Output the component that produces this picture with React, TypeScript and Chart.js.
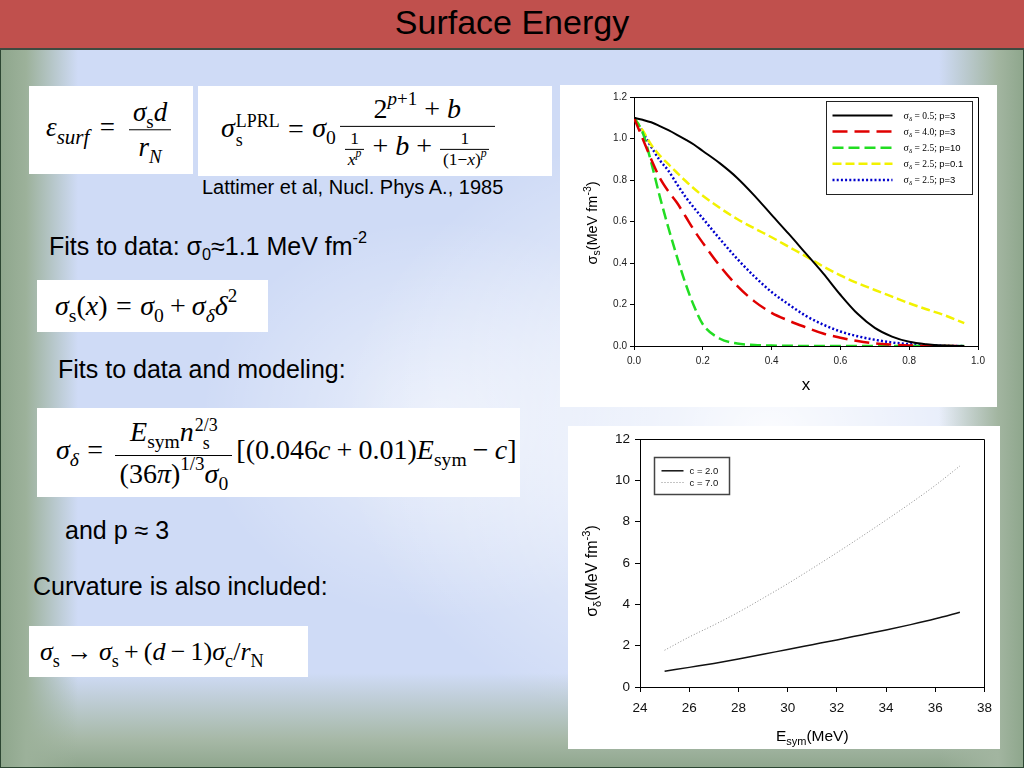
import React, { useEffect, useRef } from 'react';
import { Chart, registerables } from 'chart.js';
Chart.register(...registerables);

// ---------- data: top chart (surface tension vs x) ----------
const xFraction = [0, 0.025, 0.05, 0.075, 0.1, 0.125, 0.15, 0.175, 0.2, 0.25, 0.3, 0.35, 0.4, 0.45, 0.5, 0.55, 0.6, 0.65, 0.7, 0.75, 0.8, 0.85, 0.9, 0.96];
const sigmaD05p3 = [1.10, 1.09, 1.078, 1.06, 1.04, 1.018, 0.995, 0.97, 0.94, 0.88, 0.81, 0.725, 0.632, 0.54, 0.445, 0.35, 0.247, 0.155, 0.087, 0.045, 0.02, 0.008, 0.002, 0];
const sigmaD40p3 = [1.10, 1.0, 0.9, 0.81, 0.745, 0.69, 0.624, 0.557, 0.497, 0.385, 0.29, 0.215, 0.16, 0.122, 0.09, 0.06, 0.04, 0.024, 0.013, 0.007, 0.003, 0.001, 0, 0];
const sigmaD25p10 = [1.10, 1.03, 0.885, 0.72, 0.57, 0.43, 0.30, 0.19, 0.105, 0.035, 0.012, 0.005, 0.002, 0.001, 0, 0, 0, 0, 0, 0, 0, 0, 0, 0];
const sigmaD25p01 = [1.10, 1.04, 0.97, 0.918, 0.876, 0.835, 0.795, 0.758, 0.724, 0.665, 0.612, 0.567, 0.524, 0.478, 0.432, 0.383, 0.34, 0.303, 0.27, 0.238, 0.206, 0.177, 0.15, 0.11];
const sigmaD25p3 = [1.10, 1.03, 0.96, 0.895, 0.845, 0.78, 0.718, 0.665, 0.615, 0.515, 0.42, 0.335, 0.26, 0.2, 0.145, 0.103, 0.07, 0.047, 0.03, 0.017, 0.009, 0.004, 0.001, 0];
const topLegendSigma = ['0.5', '4.0', '2.5', '2.5', '2.5'];
const topLegendP = ['3', '3', '10', '0.1', '3'];
const topXTicks = [0, 0.2, 0.4, 0.6, 0.8, 1.0];

// ---------- data: bottom chart (sigma_delta vs Esym) ----------
const eSym = [25, 26, 27, 28, 29, 30, 31, 32, 33, 34, 35, 36, 37];
const sigmaDeltaC2 = [0.76, 0.95, 1.14, 1.35, 1.58, 1.82, 2.05, 2.28, 2.52, 2.76, 3.02, 3.30, 3.62];
const sigmaDeltaC7 = [1.78, 2.42, 3.0, 3.62, 4.3, 5.0, 5.74, 6.5, 7.28, 8.08, 8.9, 9.76, 10.7];
const bottomLegend = ['c = 2.0', 'c = 7.0'];

// ---------- styles ----------
const topSeries = [sigmaD05p3, sigmaD40p3, sigmaD25p10, sigmaD25p01, sigmaD25p3];
const topStyles = [
  { color: '#000000', width: 2, dash: [] as number[] },
  { color: '#e00000', width: 2.5, dash: [15, 7] },
  { color: '#22dd22', width: 2.5, dash: [11, 5] },
  { color: '#f2f200', width: 2.5, dash: [9, 4] },
  { color: '#0000cc', width: 2.5, dash: [2, 2.2] },
];
const bottomSeries = [sigmaDeltaC2, sigmaDeltaC7];
const bottomStyles = [
  { color: '#111111', width: 1.5, dash: [] as number[] },
  { color: '#8a8a8a', width: 1, dash: [1, 2] },
];

const SANS = '"Liberation Sans", Arial, Helvetica, sans-serif';
const SERIF = '"Liberation Serif", "Times New Roman", "DejaVu Serif", serif';

type Seg = { t: string; size: number; fam?: string; dy?: number };
const fontOf = (s: Seg) => `${s.size}px ${s.fam || SANS}`;
function drawSegs(ctx: CanvasRenderingContext2D, segs: Seg[], x: number, y: number, center: boolean) {
  let w = 0;
  for (const s of segs) { ctx.font = fontOf(s); w += ctx.measureText(s.t).width; }
  let cx = center ? x - w / 2 : x;
  ctx.textAlign = 'left';
  ctx.textBaseline = 'alphabetic';
  for (const s of segs) {
    ctx.font = fontOf(s);
    ctx.fillText(s.t, cx, y + (s.dy || 0));
    cx += ctx.measureText(s.t).width;
  }
}

function drawFrame(ctx: CanvasRenderingContext2D, ca: any) {
  ctx.strokeStyle = '#000';
  ctx.lineWidth = 1;
  ctx.setLineDash([]);
  ctx.beginPath();
  ctx.moveTo(ca.left, Math.round(ca.top) + 0.5);
  ctx.lineTo(Math.round(ca.right) + 0.5, Math.round(ca.top) + 0.5);
  ctx.lineTo(Math.round(ca.right) + 0.5, ca.bottom);
  ctx.stroke();
}

const topDecor = {
  id: 'topDecor',
  afterDraw(chart: any) {
    const { ctx, chartArea: ca } = chart;
    ctx.save();
    drawFrame(ctx, ca);
    ctx.fillStyle = '#000';
    drawSegs(ctx, [{ t: 'x', size: 17 }], (ca.left + ca.right) / 2, ca.bottom + 44, true);
    ctx.save();
    ctx.translate(ca.left - 42.5, (ca.top + ca.bottom) / 2 + 1.5);
    ctx.rotate(-Math.PI / 2);
    drawSegs(ctx, [
      { t: 'σ', size: 14.5 }, { t: 's', size: 10.5, dy: 3 }, { t: '(MeV fm', size: 14.5 },
      { t: '-3', size: 10.5, dy: -6 }, { t: ')', size: 14.5 },
    ], 0, 5, true);
    ctx.restore();
    // legend
    const bw = 146, bh = 93;
    const bx = Math.round(ca.right - 6 - bw) + 0.5, by = Math.round(ca.top + 4) + 0.5;
    ctx.fillStyle = '#fff';
    ctx.fillRect(bx, by, bw, bh);
    ctx.strokeStyle = '#222';
    ctx.lineWidth = 1;
    ctx.strokeRect(bx, by, bw, bh);
    chart.data.datasets.forEach((ds: any, i: number) => {
      const yy = by + 14 + i * 16.1;
      ctx.setLineDash(ds.borderDash || []);
      ctx.strokeStyle = ds.borderColor;
      ctx.lineWidth = ds.borderWidth;
      ctx.beginPath();
      ctx.moveTo(bx + 6, yy);
      ctx.lineTo(bx + 66, yy);
      ctx.stroke();
      ctx.setLineDash([]);
      ctx.fillStyle = '#000';
      drawSegs(ctx, [
        { t: 'σ', size: 10, fam: SERIF }, { t: 'δ', size: 7, fam: SERIF, dy: 2 },
        { t: ` = ${topLegendSigma[i]}; `, size: 9.5, fam: SERIF }, { t: `p=${topLegendP[i]}`, size: 9.5 },
      ], bx + 77, yy + 3, false);
    });
    ctx.restore();
  },
};

const bottomDecor = {
  id: 'bottomDecor',
  afterDraw(chart: any) {
    const { ctx, chartArea: ca } = chart;
    ctx.save();
    drawFrame(ctx, ca);
    ctx.fillStyle = '#000';
    drawSegs(ctx, [{ t: 'E', size: 15.5 }, { t: 'sym', size: 11, dy: 4 }, { t: '(MeV)', size: 15.5 }], (ca.left + ca.right) / 2, ca.bottom + 54, true);
    ctx.save();
    ctx.translate(ca.left - 49, (ca.top + ca.bottom) / 2 + 8);
    ctx.rotate(-Math.PI / 2);
    drawSegs(ctx, [
      { t: 'σ', size: 16 }, { t: 'δ', size: 11, dy: 4 }, { t: '(MeV fm', size: 16 },
      { t: '-3', size: 11, dy: -7 }, { t: ')', size: 16 },
    ], 0, 5.5, true);
    ctx.restore();
    // legend
    const bw = 75, bh = 37;
    const bx = Math.round(ca.left + 14) + 0.5, by = Math.round(ca.top + 18) + 0.5;
    ctx.fillStyle = '#fff';
    ctx.fillRect(bx, by, bw, bh);
    ctx.strokeStyle = '#444';
    ctx.lineWidth = 1.5;
    ctx.strokeRect(bx, by, bw, bh);
    chart.data.datasets.forEach((ds: any, i: number) => {
      const yy = by + 13.3 + i * 11.7;
      ctx.setLineDash(ds.borderDash || []);
      ctx.strokeStyle = ds.borderColor;
      ctx.lineWidth = ds.borderWidth;
      ctx.beginPath();
      ctx.moveTo(bx + 7, yy);
      ctx.lineTo(bx + 29, yy);
      ctx.stroke();
      ctx.setLineDash([]);
      ctx.fillStyle = '#111';
      drawSegs(ctx, [{ t: bottomLegend[i], size: 9.5 }], bx + 35, yy + 3.5, false);
    });
    ctx.restore();
  },
};

// ---------- formula helpers ----------
const Sub = ({ children, s = 0.7 }: any) => (
  <span style={{ fontSize: `${s}em`, verticalAlign: '-0.35em', lineHeight: 0, fontStyle: 'normal' }}>{children}</span>
);
const Sup = ({ children, s = 0.68 }: any) => (
  <span style={{ fontSize: `${s}em`, verticalAlign: '0.7em', lineHeight: 0, fontStyle: 'normal' }}>{children}</span>
);
const I = ({ children }: any) => <span style={{ fontStyle: 'italic' }}>{children}</span>;
const SupSub = ({ sup, sub }: any) => (
  <span style={{ display: 'inline-flex', flexDirection: 'column', verticalAlign: 'middle', fontSize: '0.64em', lineHeight: 1.05, marginLeft: 1 }}>
    <span>{sup}</span>
    <span>{sub}</span>
  </span>
);
const Frac = ({ num, den, small }: any) => (
  <span style={{
    display: 'inline-flex', flexDirection: 'column', alignItems: 'stretch', verticalAlign: 'middle',
    textAlign: 'center', margin: small ? '0 0.08em' : '0 0.14em', lineHeight: 1.12, fontSize: small ? '0.62em' : '1em',
  }}>
    <span style={{ padding: '0 0.15em', borderBottom: small ? '1px solid #000' : '1.4px solid #000', paddingBottom: small ? 0 : 2 }}>{num}</span>
    <span style={{ padding: '0 0.15em', paddingTop: small ? 0 : 2 }}>{den}</span>
  </span>
);
const Op = ({ children, m = 0.3 }: any) => <span style={{ margin: `0 ${m}em` }}>{children}</span>;

const Box = ({ left, top, width, height, pad, size, children }: any) => (
  <div style={{ position: 'absolute', left, top, width, height, background: '#fff' }}>
    <div style={{
      position: 'absolute', left: pad, top: '50%', transform: 'translateY(-50%)', whiteSpace: 'nowrap',
      fontFamily: SERIF, fontSize: size, color: '#000', lineHeight: 1.2,
    }}>{children}</div>
  </div>
);

const Txt = ({ left, top, size, children }: any) => (
  <div style={{ position: 'absolute', left, top, fontFamily: SANS, fontSize: size, lineHeight: 1, color: '#000', whiteSpace: 'nowrap' }}>{children}</div>
);

export default function App() {
  const topRef = useRef<HTMLCanvasElement>(null);
  const botRef = useRef<HTMLCanvasElement>(null);

  useEffect(() => {
    const tickFontTop = { family: SANS, size: 10 };
    const c1 = new Chart(topRef.current as HTMLCanvasElement, {
      type: 'line',
      data: {
        datasets: topSeries.map((arr, i) => ({
          label: `σδ = ${topLegendSigma[i]}; p=${topLegendP[i]}`,
          data: xFraction.map((x, j) => ({ x, y: arr[j] })),
          borderColor: topStyles[i].color,
          borderWidth: topStyles[i].width,
          borderDash: topStyles[i].dash,
          pointRadius: 0,
          fill: false,
          cubicInterpolationMode: 'monotone',
        })),
      } as any,
      options: {
        responsive: false,
        animation: false,
        devicePixelRatio: 1,
        layout: { padding: { top: 12, right: 19, left: 0, bottom: 0 } },
        plugins: { legend: { display: false }, tooltip: { enabled: false } },
        scales: {
          x: {
            type: 'linear', min: 0, max: 1,
            afterFit: (s: any) => { s.height = 61; },
            afterBuildTicks: (s: any) => { s.ticks = topXTicks.map((v) => ({ value: v })); },
            ticks: { callback: (v: any) => Number(v).toFixed(1), font: tickFontTop, color: '#222', padding: 5, maxRotation: 0, autoSkip: false },
            grid: { drawOnChartArea: false, drawTicks: true, tickLength: 4, tickColor: '#000' },
            border: { display: true, color: '#000', width: 1 },
          },
          y: {
            type: 'linear', min: 0, max: 1.2,
            afterFit: (s: any) => { s.width = 74; },
            ticks: { stepSize: 0.2, callback: (v: any) => Number(v).toFixed(1), font: tickFontTop, color: '#222', padding: 3 },
            grid: { drawOnChartArea: false, drawTicks: true, tickLength: 4, tickColor: '#000' },
            border: { display: true, color: '#000', width: 1 },
          },
        },
      } as any,
      plugins: [topDecor],
    });

    const tickFontBot = { family: SANS, size: 13.5 };
    const c2 = new Chart(botRef.current as HTMLCanvasElement, {
      type: 'line',
      data: {
        datasets: bottomSeries.map((arr, i) => ({
          label: bottomLegend[i],
          data: eSym.map((x, j) => ({ x, y: arr[j] })),
          borderColor: bottomStyles[i].color,
          borderWidth: bottomStyles[i].width,
          borderDash: bottomStyles[i].dash,
          pointRadius: 0,
          fill: false,
          cubicInterpolationMode: 'monotone',
        })),
      } as any,
      options: {
        responsive: false,
        animation: false,
        devicePixelRatio: 1,
        layout: { padding: { top: 9, right: 12, left: 0, bottom: 0 } },
        plugins: { legend: { display: false }, tooltip: { enabled: false } },
        scales: {
          x: {
            type: 'linear', min: 24, max: 38,
            afterFit: (s: any) => { s.height = 62; },
            ticks: { stepSize: 2, callback: (v: any) => String(v), font: tickFontBot, color: '#111', padding: 8, maxRotation: 0, autoSkip: false },
            grid: { drawOnChartArea: false, drawTicks: true, tickLength: 5, tickColor: '#000' },
            border: { display: true, color: '#000', width: 1 },
          },
          y: {
            type: 'linear', min: 0, max: 12,
            afterFit: (s: any) => { s.width = 72; },
            ticks: { stepSize: 2, callback: (v: any) => String(v), font: tickFontBot, color: '#111', padding: 5 },
            grid: { drawOnChartArea: false, drawTicks: true, tickLength: 5, tickColor: '#000' },
            border: { display: true, color: '#000', width: 1 },
          },
        },
      } as any,
      plugins: [bottomDecor],
    });

    return () => { c1.destroy(); c2.destroy(); };
  }, []);

  const bg = [
    'linear-gradient(to right, #8ea68c 0px, #9cb19a 26px, rgba(160,180,165,0) 78px)',
    'linear-gradient(to left, #8ea68c 0px, #a2b5a0 26px, rgba(162,181,170,0) 85px)',
    'linear-gradient(to top, #8fa68d 0px, #a6b8a6 28px, rgba(175,190,185,0) 95px)',
    'radial-gradient(ellipse 430px 320px at 770px 430px, rgba(255,255,255,0.9), rgba(255,255,255,0) 100%)',
    'radial-gradient(ellipse 240px 200px at 440px 420px, rgba(255,255,255,0.55), rgba(255,255,255,0) 100%)',
    '#cfdbf6',
  ].join(',');

  return (
    <div style={{ position: 'fixed', left: 0, top: 0, width: 1024, height: 768, overflow: 'hidden', background: bg, boxShadow: 'inset 0 0 0 1px #2c4632' }}>
      <div style={{ position: 'absolute', left: 0, top: 0, width: 1024, height: 48, background: '#c0504d', borderBottom: '2px solid #3e4a40' }}>
        <div style={{ position: 'absolute', left: 0, top: 5, width: 1024, textAlign: 'center', fontFamily: SANS, fontSize: 34, lineHeight: 1, color: '#000' }}>Surface Energy</div>
      </div>

      {/* formula 1 */}
      <Box left={29} top={86} width={164} height={88} pad={17} size={27}>
        <I>ε</I><Sub s={0.78}><I>surf</I></Sub>
        <Op m={0.38}>=</Op>
        <Frac num={<><I>σ</I><Sub>s</Sub><I>d</I></>} den={<><I>r</I><Sub><I>N</I></Sub></>} />
      </Box>

      {/* formula 2 */}
      <Box left={198} top={86} width={354} height={90} pad={23} size={28}>
        <I>σ</I><SupSub sup="LPRL" sub="s" />
        <Op>=</Op>
        <I>σ</I><Sub>0</Sub>
        <Frac
          num={<>2<Sup><I>p</I>+1</Sup> + <I>b</I></>}
          den={<><Frac small num="1" den={<><I>x</I><Sup><I>p</I></Sup></>} /> + <I>b</I> + <Frac small num="1" den={<>(1−<I>x</I>)<Sup><I>p</I></Sup></>} /></>}
        />
      </Box>

      <Txt left={202} top={177} size={20}>Lattimer et al, Nucl. Phys A., 1985</Txt>

      <Txt left={49} top={229} size={25}>
        Fits to data: σ<span style={{ fontSize: '0.65em', verticalAlign: '-0.3em' }}>0</span>≈1.1 MeV fm<span style={{ fontSize: '0.65em', verticalAlign: '0.75em' }}>-2</span>
      </Txt>

      {/* formula 3 */}
      <Box left={37} top={280} width={231} height={52} pad={18} size={28}>
        <I>σ</I><Sub>s</Sub>(<I>x</I>)
        <Op>=</Op>
        <I>σ</I><Sub>0</Sub><Op m={0.22}>+</Op><I>σ</I><Sub><I>δ</I></Sub><I>δ</I><Sup>2</Sup>
      </Box>

      <Txt left={58} top={357} size={25}>Fits to data and modeling:</Txt>

      {/* formula 4 */}
      <Box left={37} top={408} width={483} height={89} pad={19} size={28}>
        <I>σ</I><Sub><I>δ</I></Sub>
        <Op>=</Op>
        <Frac
          num={<><I>E</I><Sub>sym</Sub><I>n</I><SupSub sup="2/3" sub="s" /></>}
          den={<>(36<I>π</I>)<Sup>1/3</Sup><I>σ</I><Sub>0</Sub></>}
        />
        [(0.046<I>c</I><Op m={0.22}>+</Op>0.01)<I>E</I><Sub>sym</Sub><Op m={0.22}>−</Op><I>c</I>]
      </Box>

      <Txt left={65} top={518} size={25}>and p ≈ 3</Txt>
      <Txt left={33} top={574} size={25}>Curvature is also included:</Txt>

      {/* formula 5 */}
      <Box left={29} top={626} width={279} height={51} pad={11} size={26}>
        <I>σ</I><Sub>s</Sub><Op m={0.25}>→</Op><I>σ</I><Sub>s</Sub><Op m={0.2}>+</Op>(<I>d</I><Op m={0.2}>−</Op>1)<I>σ</I><Sub>c</Sub>/<I>r</I><Sub>N</Sub>
      </Box>

      <canvas ref={topRef} width={437} height={322} style={{ position: 'absolute', left: 560, top: 85, width: 437, height: 322, background: '#fff' }} />
      <canvas ref={botRef} width={432} height={323} style={{ position: 'absolute', left: 568, top: 426, width: 432, height: 323, background: '#fff' }} />
    </div>
  );
}
